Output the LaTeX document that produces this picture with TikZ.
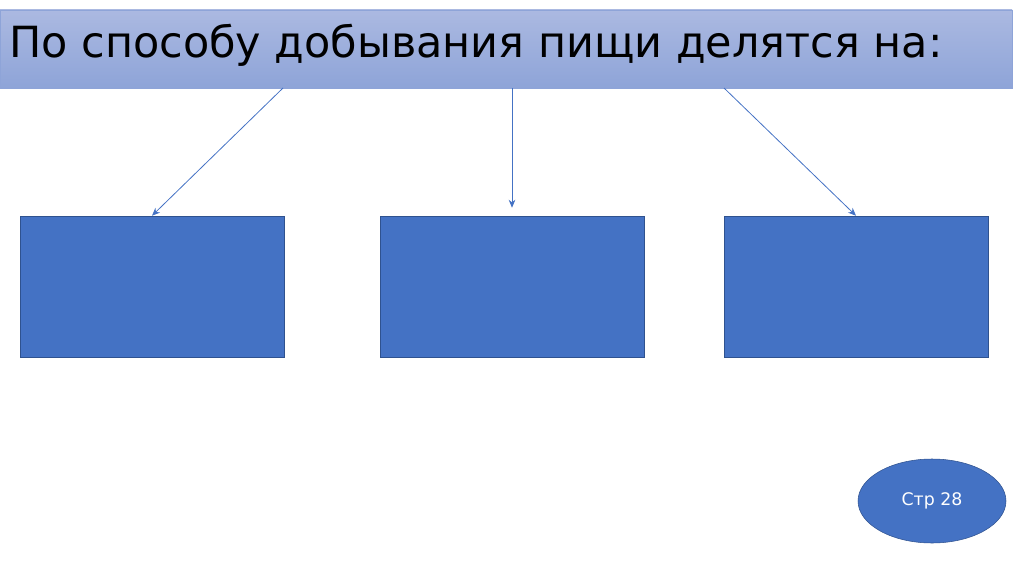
\documentclass[tikz,border=0pt]{standalone}
\usepackage{fontspec}
\setmainfont{DejaVu Sans}
\usepackage{tikz}
\usetikzlibrary{arrows,arrows.meta,positioning,shapes.geometric}
\definecolor{barTop}{RGB}{171,185,225}
\definecolor{barBot}{RGB}{142,164,216}
\definecolor{boxFill}{RGB}{68,114,196}
\definecolor{boxLine}{RGB}{47,82,143}

\begin{document}
\begin{tikzpicture}[
		x=0.75pt,y=-0.75pt,
		bar/.style={draw=barBot,thin,top color=barTop,bottom color=barBot,minimum width=1012*0.75pt,minimum height=78*0.75pt,inner sep=0pt},
		group/.style={draw=boxLine,fill=boxFill,minimum width=264*0.75pt,minimum height=141*0.75pt,inner sep=0pt},
		oneway/.style={-{Stealth[length=6pt,width=5pt]},draw=boxFill,semithick},
		page/.style={ellipse,draw=boxLine,fill=boxFill,text=white,minimum width=148*0.75pt,minimum height=84*0.75pt,font=\fontsize{13}{15}\selectfont}]
		\useasboundingbox (0,0) rectangle (1024,574);
		
		% Title bar
		\node[bar] (bar) at (506,49) {};
		\node[anchor=base west,inner sep=0pt,font=\fontsize{32.2}{38}\selectfont] (title) at (9,58) {По способу добывания пищи делятся на:};
		
		% Three empty boxes
		\node[group] (left) at (152,286.5) {};
		\node[group] (middle) at (512,286.5) {};
		\node[group] (right) at (856,286.5) {};
		
		% Arrows from the bar
		\draw
		(283,88) coordinate (fromL)
		(512,88) coordinate (fromM)
		(724,88) coordinate (fromR);
		
		\draw[oneway] (fromL) -- (left.north);
		\draw[oneway,shorten >=8*0.75pt] (fromM) -- (middle.north);
		\draw[oneway] (fromR) -- (right.north);
		
		% Page reference
		\node[page] (ref) at (932,501) {Стр 28};
		
\end{tikzpicture}
\end{document}
